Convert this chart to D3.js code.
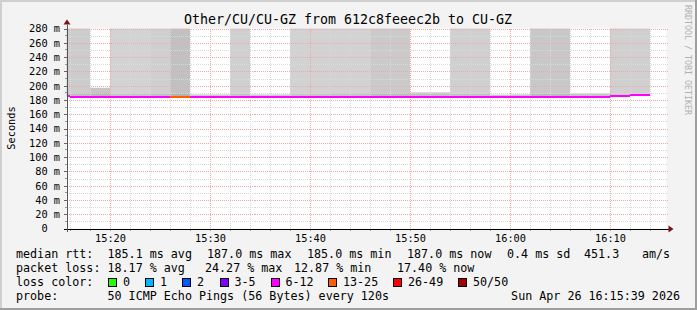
<!DOCTYPE html>
<html>
<head>
<meta charset="utf-8">
<script src="https://cdn.jsdelivr.net/npm/d3@7"></script>
<style>
  body { margin: 0; background: #f3f3f3; }
  svg { display: block; font-family: "DejaVu Sans Mono", monospace; }
</style>
</head>
<body>
<svg id="chart" width="697" height="310"></svg>
<script>
// data, one entry per 2 min step (start time of the step)
const stepStarts = [
  "15:14", "15:16", "15:18", "15:20", "15:22", "15:24", "15:26", "15:28", "15:30", "15:32",
  "15:34", "15:36", "15:38", "15:40", "15:42", "15:44", "15:46", "15:48", "15:50", "15:52",
  "15:54", "15:56", "15:58", "16:00", "16:02", "16:04", "16:06", "16:08", "16:10", "16:12"
];
// median rtt in ms
const medianRtt = [
  186, 185, 185, 185, 185, 185, 185, 185, 185, 185,
  185, 185, 185, 185, 185, 185, 185, 185, 185, 185,
  185, 185, 185, 185, 185, 185, 185, 185, 185.8, 187
];
// highest ping of the smoke in ms (above 280 is cut off)
const smokeTop = [
  400, 400, 197, 400, 400, 400, 400, 188, 188, 400,
  188, 188, 400, 400, 400, 400, 400, 400, 190.8, 190.8,
  400, 400, 187.6, 188, 400, 400, 189, 189, 400, 400
];
// inner (denser) smoke band top in ms
const smokeBand = [
  189, 189.5, 190, 188.5, 188.5, 189, 189, 187, 187, 188.5,
  187, 187, 188, 188, 189, 189, 189, 189, 189.5, 189.5,
  188.5, 188.5, 187, 187, 188.5, 188.5, 188, 188, 188, 188.5
];
const smokeShade = [
  "#cccccc", "#cccccc", "#c6c6c6", "#d3d3d3", "#d3d3d3", "#cfcfcf", "#c1c1c1", "#d9d9d9", "#d9d9d9", "#d0d0d0",
  "#d9d9d9", "#d9d9d9", "#d2d2d2", "#d2d2d2", "#d2d2d2", "#d2d2d2", "#cacaca", "#cacaca", "#d0d0d0", "#d0d0d0",
  "#d0d0d0", "#d0d0d0", "#d6d6d6", "#d6d6d6", "#c8c8c8", "#c8c8c8", "#d2d2d2", "#d2d2d2", "#d0d0d0", "#d0d0d0"
];
// lost pings out of 50
const lostPings = [
  9, 9, 10, 9, 9, 9, 13, 9, 9, 9,
  9, 9, 9, 9, 9, 9, 9, 9, 9, 9,
  9, 9, 9, 9, 9, 9, 9, 9, 9, 9
];

const lossLabels = ["0", "1", "2", "3-5", "6-12", "13-25", "26-49", "50/50"];
const lossColors = ["#26ff00", "#00b8ff", "#0059ff", "#7e00ff", "#ff00ff", "#ff5e00", "#ff0000", "#a10000"];
const lossLower = [0, 1, 2, 3, 6, 13, 26, 50];

const yTicks = [0, 20, 40, 60, 80, 100, 120, 140, 160, 180, 200, 220, 240, 260, 280];

const titleText = "Other/CU/CU-GZ from 612c8feeec2b to CU-GZ";
const medianRow = [
  ["median rtt:", 16], ["185.1 ms avg", 107.5], ["187.0 ms max", 207], ["185.0 ms min", 307],
  ["187.0 ms now", 407], ["0.4 ms sd", 507], ["451.3", 584], ["am/s", 642]
];
const lossRow = [
  ["packet loss:", 16], ["18.17 % avg", 107.5], ["24.27 % max", 205], ["12.87 % min", 294], ["17.40 % now", 397]
];
const probeText = "50 ICMP Echo Pings (56 Bytes) every 120s";
const dateText = "Sun Apr 26 16:15:39 2026";

const svg = d3.select("#chart");
const W = 697, H = 310;
const plotL = 66.5, plotR = 666.5, plotT = 28.5, plotB = 228.5;

function at(hm, s = 0) {
  const [h, m] = hm.split(":").map(Number);
  return new Date(2026, 3, 26, h, m, s);
}
const t0 = at("15:15", 39), t1 = at("16:15", 39);

const x = d3.scaleTime().domain([t0, t1]).range([plotL, plotR]);
const y = d3.scaleLinear().domain([0, 280]).range([plotB, plotT]);

function lossColor(n) {
  let c = lossColors[0];
  lossLower.forEach((lo, i) => { if (n >= lo) c = lossColors[i]; });
  return c;
}

// background + frame
svg.append("rect").attr("width", W).attr("height", H).attr("fill", "#f3f3f3");
svg.append("rect").attr("x", 0).attr("y", 0).attr("width", W).attr("height", 2).attr("fill", "#cfcfcf");
svg.append("rect").attr("x", 0).attr("y", 0).attr("width", 2).attr("height", H).attr("fill", "#cfcfcf");
svg.append("rect").attr("x", 0).attr("y", H - 2).attr("width", W).attr("height", 2).attr("fill", "#9e9e9e");
svg.append("rect").attr("x", W - 2).attr("y", 0).attr("width", 2).attr("height", H).attr("fill", "#9e9e9e");

svg.append("rect").attr("x", plotL).attr("y", plotT).attr("width", plotR - plotL).attr("height", plotB - plotT).attr("fill", "#ffffff");

// smoke
const steps = stepStarts.map((s, i) => {
  const a = at(s);
  const b = new Date(+a + 120000);
  return {
    x0: x(a < t0 ? t0 : a), x1: x(b > t1 ? t1 : b),
    med: medianRtt[i], top: Math.min(smokeTop[i], 280), band: Math.min(smokeBand[i], smokeTop[i]),
    shade: smokeShade[i], lost: lostPings[i]
  };
});

const smoke = svg.append("g");
smoke.selectAll("rect.smoke").data(steps).enter().append("rect")
  .attr("class", "smoke")
  .attr("x", d => d.x0).attr("width", d => d.x1 - d.x0)
  .attr("y", d => y(d.top)).attr("height", d => y(d.med) - y(d.top))
  .attr("fill", d => d.shade);
smoke.selectAll("rect.band").data(steps).enter().append("rect")
  .attr("class", "band")
  .attr("x", d => d.x0).attr("width", d => d.x1 - d.x0)
  .attr("y", d => y(d.band)).attr("height", d => y(d.med) - y(d.band))
  .attr("fill", "#000").attr("fill-opacity", 0.07);

// grid
const grid = svg.append("g").attr("shape-rendering", "crispEdges");
const minorX = d3.timeMinute.every(2).range(t0, t1);
const majorX = d3.timeMinute.every(10).range(t0, t1);
grid.selectAll("line.vmin").data(minorX).enter().append("line")
  .attr("x1", d => Math.round(x(d)) + 0.5).attr("x2", d => Math.round(x(d)) + 0.5)
  .attr("y1", plotT).attr("y2", plotB)
  .attr("stroke", "#d8d8d8").attr("stroke-dasharray", "1,1");
const minorY = d3.range(10, 290, 20);
grid.selectAll("line.hmin").data(minorY).enter().append("line")
  .attr("x1", plotL).attr("x2", plotR + 2)
  .attr("y1", d => Math.round(y(d)) + 0.5).attr("y2", d => Math.round(y(d)) + 0.5)
  .attr("stroke", "#d8d8d8").attr("stroke-dasharray", "1,1");
grid.selectAll("line.vmaj").data(majorX).enter().append("line")
  .attr("x1", d => Math.round(x(d)) + 0.5).attr("x2", d => Math.round(x(d)) + 0.5)
  .attr("y1", plotT).attr("y2", plotB)
  .attr("stroke", "#f0a8a8").attr("stroke-dasharray", "1,1");
grid.selectAll("line.hmaj").data(yTicks.slice(1)).enter().append("line")
  .attr("x1", plotL).attr("x2", plotR + 2)
  .attr("y1", d => Math.round(y(d)) + 0.5).attr("y2", d => Math.round(y(d)) + 0.5)
  .attr("stroke", "#f0a8a8").attr("stroke-dasharray", "1,1");

// median line, coloured by loss
svg.append("g").selectAll("line.med").data(steps).enter().append("line")
  .attr("x1", d => d.x0).attr("x2", d => d.x1)
  .attr("y1", d => y(d.med) + 0.5).attr("y2", d => y(d.med) + 0.5)
  .attr("stroke", d => lossColor(d.lost)).attr("stroke-width", 2)
  .attr("shape-rendering", "crispEdges");

// axes
const axes = svg.append("g").attr("shape-rendering", "crispEdges");
const yAxis = d3.axisLeft(y).tickValues(yTicks).tickSize(3).tickPadding(4)
  .tickFormat(d => d === 0 ? "0  " : d + " m");
const yg = axes.append("g").attr("transform", `translate(${plotL},0)`).call(yAxis);
yg.select(".domain").remove();
yg.selectAll("text").attr("font-size", "10.3px").attr("font-family", "DejaVu Sans Mono")
  .attr("fill", "#000").attr("xml:space", "preserve").style("white-space", "pre")
  .attr("x", -6.5).attr("dy", "0.33em");
yg.selectAll(".tick line").attr("stroke", "#666");
axes.append("g").attr("transform", `translate(${plotL},0)`)
  .selectAll("line").data(minorY).enter().append("line")
  .attr("x1", -2).attr("x2", 0).attr("y1", d => y(d)).attr("y2", d => y(d)).attr("stroke", "#999");

const xAxis = d3.axisBottom(x).ticks(d3.timeMinute.every(10)).tickSize(2).tickPadding(4)
  .tickFormat(d3.timeFormat("%H:%M"));
const xg = axes.append("g").attr("transform", `translate(0,${plotB})`).call(xAxis);
xg.select(".domain").remove();
xg.selectAll("text").attr("font-size", "10.3px").attr("font-family", "DejaVu Sans Mono").attr("fill", "#000");
xg.selectAll(".tick line").attr("stroke", "#666");
axes.append("g").attr("transform", `translate(0,${plotB})`)
  .selectAll("line").data(minorX).enter().append("line")
  .attr("x1", d => x(d)).attr("x2", d => x(d)).attr("y1", 0).attr("y2", 2).attr("stroke", "#999");

axes.append("line").attr("x1", plotL - 3).attr("x2", plotR + 2).attr("y1", plotB + 0.5).attr("y2", plotB + 0.5)
  .attr("stroke", "#000");
axes.append("line").attr("x1", plotL + 0.5).attr("x2", plotL + 0.5).attr("y1", plotB + 3).attr("y2", plotT - 4)
  .attr("stroke", "#555");
svg.append("path").attr("d", `M${plotR + 2},${plotB - 3}L${plotR + 7},${plotB + 0.5}L${plotR + 2},${plotB + 4}Z`).attr("fill", "#7a1010");
svg.append("path").attr("d", `M${plotL - 3},${plotT - 4}L${plotL + 0.5},${plotT - 9}L${plotL + 4},${plotT - 4}Z`).attr("fill", "#7a1010");

// title and labels
svg.append("text").attr("x", 348).attr("y", 24).attr("text-anchor", "middle")
  .attr("font-size", "13.3px").attr("fill", "#000").text(titleText);
svg.append("text").attr("transform", "translate(15,128) rotate(-90)").attr("text-anchor", "middle")
  .attr("font-size", "10.3px").attr("fill", "#000").text("Seconds");
svg.append("text").attr("transform", "translate(685,5) rotate(90)").attr("font-size", "8.3px")
  .attr("fill", "#b0b0b0").text("RRDTOOL / TOBI OETIKER");

// legend
const leg = svg.append("g").attr("font-size", "11.7px").attr("fill", "#000");
leg.selectAll("text.med").data(medianRow).enter().append("text")
  .attr("x", d => d[1]).attr("y", 258).text(d => d[0]);
leg.selectAll("text.loss").data(lossRow).enter().append("text")
  .attr("x", d => d[1]).attr("y", 272).text(d => d[0]);
leg.append("text").attr("x", 16).attr("y", 286).text("loss color:");
const swatchX = [108, 145, 182, 219.5, 270.5, 328, 393, 458];
lossLabels.forEach((lab, i) => {
  leg.append("rect").attr("x", swatchX[i] + 0.5).attr("y", 278.5).attr("width", 8).attr("height", 8)
    .attr("fill", lossColors[i]).attr("stroke", "#000").attr("shape-rendering", "crispEdges");
  leg.append("text").attr("x", swatchX[i] + 15).attr("y", 286).text(lab);
});
leg.append("text").attr("x", 16).attr("y", 300).text("probe:");
leg.append("text").attr("x", 107.5).attr("y", 300).text(probeText);
leg.append("text").attr("x", 680).attr("y", 300).attr("text-anchor", "end").text(dateText);
</script>
</body>
</html>
